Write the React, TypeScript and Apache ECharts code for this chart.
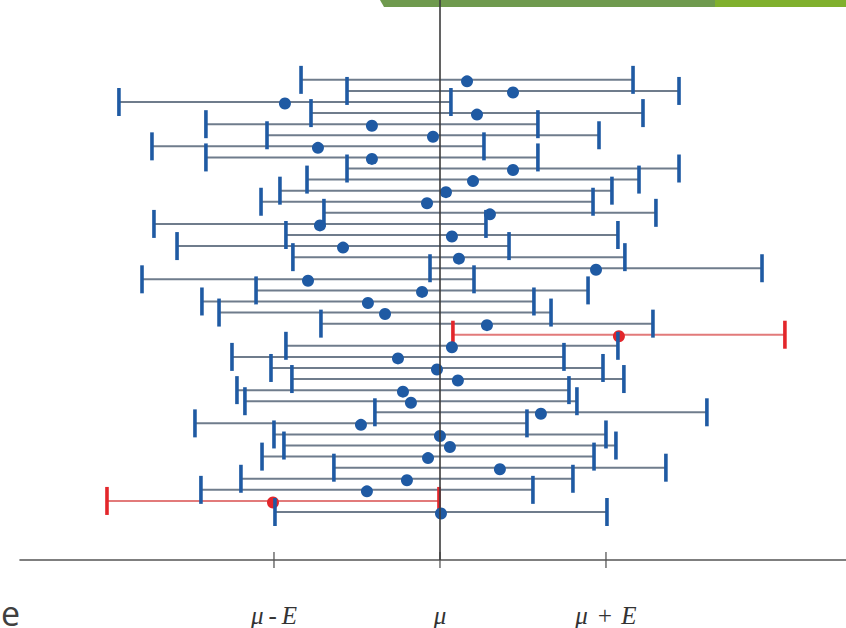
import React, { useEffect, useRef } from "react";
import * as echarts from "echarts";

// Sample means (in units of E, relative to μ), top row first
const means: number[] = [
  0.163, 0.44, -0.934, 0.223, -0.41, -0.042, -0.735, -0.41, 0.44, 0.199,
  0.036, -0.078, 0.301, -0.723, 0.072, -0.584, 0.114, 0.94, -0.795, -0.108,
  -0.434, -0.331, 0.283, 1.078, 0.072, -0.253, -0.018, 0.108, -0.223, -0.175,
  0.608, -0.476, 0.0, 0.06, -0.072, 0.361, -0.199, -0.44, -1.006, 0.006,
];
const E = 1;
const tickValues: number[] = [-1, 0, 1];
const tickLabels: string[] = ["μ\u2009-\u2009E", "μ", "μ\u2004+\u2004E"];

const X_MIN = -2.53;
const X_MAX = 2.446;
const Y_MIN = -7.207;
const Y_MAX = 43.33;

const BLUE = "#1f5aa3";
const LINE_GRAY = "#6f7c8c";
const RED = "#e3262b";
const RED_LINE = "#e27a7a";

export default function App() {
  const ref = useRef<HTMLDivElement>(null);
  useEffect(() => {
    if (!ref.current) return;
    const chart = echarts.init(ref.current, null, { renderer: "svg" });
    const rows = means.map((m, i) => [m, i]);
    const missed = (m: number) => Math.abs(m) > E;
    chart.setOption({
      animation: false,
      backgroundColor: "#ffffff",
      grid: { left: 20, right: 0, top: 0, bottom: 67, containLabel: false },
      xAxis: {
        type: "value",
        min: X_MIN,
        max: X_MAX,
        splitLine: { show: false },
        axisLine: { show: true, onZero: false, lineStyle: { color: "#555", width: 1.6 } },
        axisTick: { show: false },
        axisLabel: {
          customValues: tickValues,
          margin: 43,
          formatter: (v: number) => tickLabels[tickValues.indexOf(Math.round(v))] ?? "",
          fontFamily: "Liberation Serif",
          fontStyle: "italic",
          fontSize: 25,
          color: "#333",
        },
      },
      yAxis: {
        type: "value",
        inverse: true,
        min: Y_MIN,
        max: Y_MAX,
        show: false,
        splitLine: { show: false },
      },
      graphic: [
        {
          type: "polygon",
          shape: { points: [[380, 0], [716, 0], [716, 7], [384, 7]] },
          style: { fill: "#6f9a4e" },
        },
        {
          type: "rect",
          shape: { x: 715, y: 0, width: 131, height: 7 },
          style: { fill: "#80b02d" },
        },
        {
          type: "text",
          left: 1,
          top: 596,
          style: { text: "e", font: "34px 'Open Sans'", fill: "#404040" },
        },
      ],
      series: [
        {
          type: "custom",
          name: "intervals",
          z: 2,
          silent: true,
          data: rows,
          renderItem: (params: any, api: any) => {
            const m = api.value(0);
            const r = api.value(1);
            const a = api.coord([m - E, r]);
            const b = api.coord([m + E, r]);
            return {
              type: "line",
              shape: { x1: a[0], y1: a[1], x2: b[0], y2: b[1] },
              style: { stroke: missed(m) ? RED_LINE : LINE_GRAY, lineWidth: 2 },
            };
          },
        },
        {
          type: "scatter",
          name: "axis ticks",
          z: 3,
          silent: true,
          clip: false,
          symbol: "rect",
          symbolSize: [1.6, 16],
          itemStyle: { color: "#555" },
          data: tickValues.map((v) => [v, Y_MAX]),
          markLine: {
            silent: true,
            symbol: "none",
            label: { show: false },
            lineStyle: { color: "#3c3c3c", width: 1.6, type: "solid" },
            data: [{ xAxis: 0 }],
          },
        },
        {
          type: "custom",
          name: "ends",
          z: 4,
          silent: true,
          data: rows,
          renderItem: (params: any, api: any) => {
            const m = api.value(0);
            const r = api.value(1);
            const a = api.coord([m - E, r]);
            const b = api.coord([m + E, r]);
            const c = api.coord([m, r]);
            const col = missed(m) ? RED : BLUE;
            return {
              type: "group",
              children: [
                { type: "rect", shape: { x: a[0] - 1.8, y: a[1] - 14, width: 3.6, height: 28 }, style: { fill: col } },
                { type: "rect", shape: { x: b[0] - 1.8, y: b[1] - 14, width: 3.6, height: 28 }, style: { fill: col } },
                { type: "circle", shape: { cx: c[0], cy: c[1] + 1.5, r: 6 }, style: { fill: col } },
              ],
            };
          },
        },
      ],
    });
    return () => chart.dispose();
  }, []);
  return <div ref={ref} style={{ position: "absolute", left: 0, top: 0, width: 846, height: 628 }} />;
}
